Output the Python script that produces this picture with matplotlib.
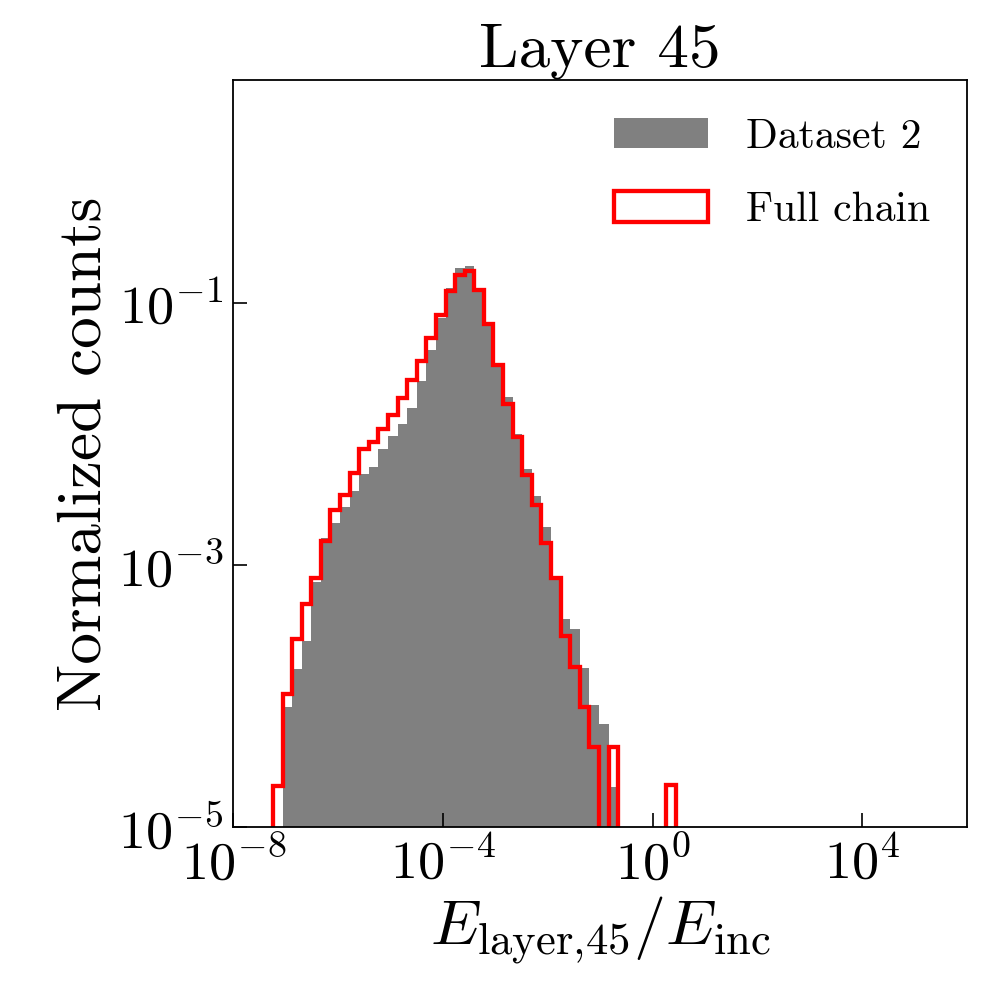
import numpy as np
import matplotlib
matplotlib.use("Agg")
import matplotlib.pyplot as plt
from matplotlib.patches import Patch

plt.rcParams["font.family"] = "serif"
plt.rcParams["font.serif"] = ["cmr10"]
plt.rcParams["mathtext.fontset"] = "cm"
plt.rcParams["axes.formatter.use_mathtext"] = True
plt.rcParams["axes.unicode_minus"] = False

# Log-spaced bin edges (log10 of E_layer/E_inc)
log_lo, log_hi, n_bins = -7.244, 0.437, 42
edges = np.logspace(log_lo, log_hi, n_bins + 1)
centers = np.sqrt(edges[:-1] * edges[1:])

# Normalized counts per bin: reference dataset
dataset2 = [
    0.0, 8.28e-5, 1.62e-4, 2.64e-4, 7.40e-4, 1.60e-3, 2.09e-3, 2.75e-3,
    3.66e-3, 4.99e-3, 5.60e-3, 7.74e-3, 9.59e-3, 1.20e-2, 1.59e-2, 2.52e-2,
    4.41e-2, 7.64e-2, 0.131, 0.186, 0.190, 0.127, 0.0674, 0.0346,
    0.0191, 0.01007, 5.44e-3, 3.37e-3, 1.95e-3, 8.07e-4, 3.84e-4, 3.24e-4,
    1.63e-4, 8.57e-5, 6.11e-5, 2.03e-5, 0.0, 0.0, 0.0, 0.0,
    0.0, 0.0,
]

# Normalized counts per bin: generated sample
full_chain = [
    2.07e-5, 1.03e-4, 2.72e-4, 5.02e-4, 7.89e-4, 1.52e-3, 2.65e-3, 3.40e-3,
    5.08e-3, 7.74e-3, 8.69e-3, 1.10e-2, 1.39e-2, 1.88e-2, 2.57e-2, 3.59e-2,
    5.40e-2, 8.04e-2, 0.1225, 0.165, 0.175, 0.1248, 0.0687, 0.0338,
    0.01687, 9.48e-3, 4.90e-3, 2.86e-3, 1.46e-3, 7.89e-4, 2.88e-4, 1.65e-4,
    8.28e-5, 4.10e-5, 0.0, 4.10e-5, 0.0, 0.0, 0.0, 0.0,
    0.0, 2.09e-5,
]

labels = ["Dataset 2", "Full chain"]
x_ticks = [1e-8, 1e-4, 1e0, 1e4]
y_ticks = [1e-5, 1e-3, 1e-1]

fig = plt.figure(figsize=(9.84, 9.86), dpi=100)
ax = fig.add_axes([0.2371, 0.1613, 0.7459, 0.7571])

ax.hist(centers, bins=edges, weights=dataset2, color="#808080",
        histtype="stepfilled", label=labels[0], log=True)
ax.hist(centers, bins=edges, weights=full_chain, color="red",
        histtype="step", linewidth=3.1, label=labels[1], log=True)

ax.set_xscale("log")
ax.set_yscale("log", nonpositive="clip")
ax.set_xlim(1e-8, 1e6)
ax.set_ylim(1e-5, 5)
ax.set_xticks(x_ticks)
ax.set_yticks(y_ticks)
ax.minorticks_off()
ax.tick_params(which="both", direction="in", length=10, width=1.2,
               labelsize=39, pad=7)
for s in ax.spines.values():
    s.set_linewidth(1.3)

ax.set_title("Layer 45", fontsize=45.5, pad=10)
ax.set_ylabel("Normalized counts", fontsize=45.5, labelpad=4)
ax.set_xlabel(r"$E_{\mathrm{layer}{,}45}/E_{\mathrm{inc}}$", fontsize=46,
              labelpad=4)

handles = [Patch(facecolor="#808080", edgecolor="none"),
           Patch(facecolor="none", edgecolor="red", linewidth=3.1)]
ax.legend(handles, labels, loc="upper right", frameon=False, fontsize=30,
          handlelength=2.25, handleheight=0.75, handletextpad=0.9,
          labelspacing=0.85)

fig.savefig("out.png", dpi=100)
